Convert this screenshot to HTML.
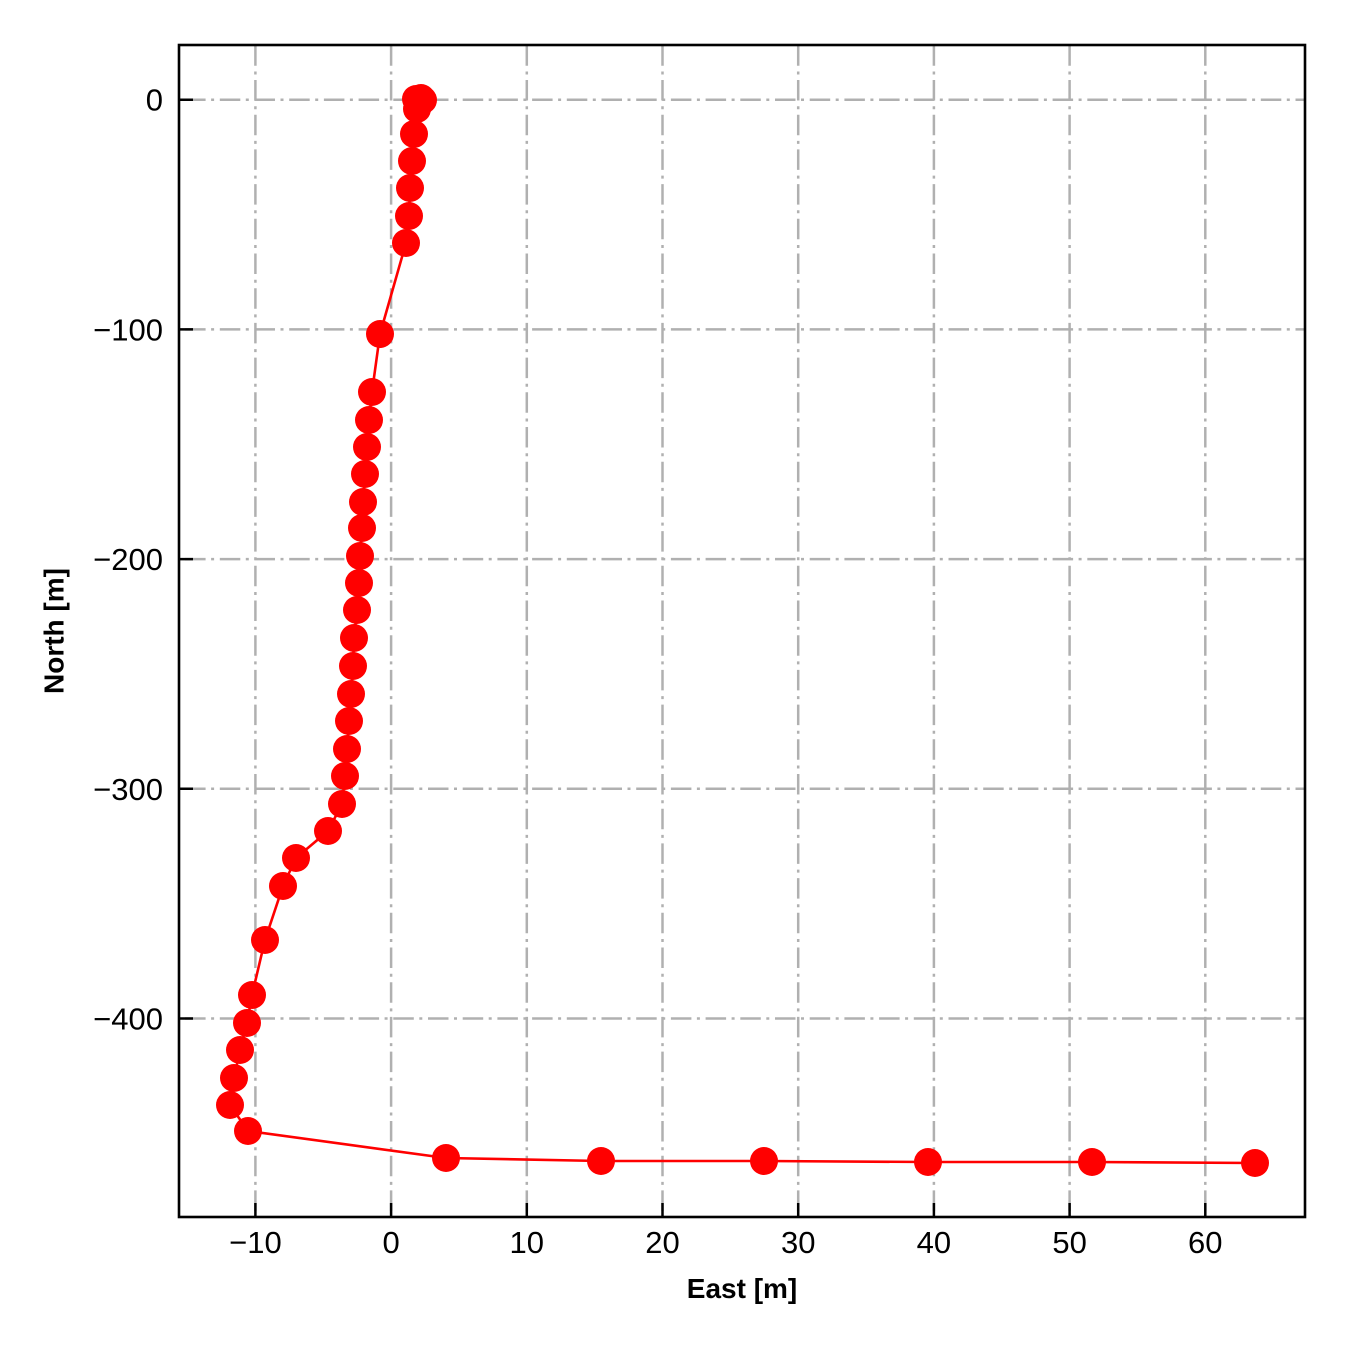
<!DOCTYPE html>
<html>
<head>
<meta charset="utf-8">
<style>
html,body{margin:0;padding:0;background:#fff;}
svg{display:block;}
text{font-family:"Liberation Sans","DejaVu Sans",Arial,sans-serif;fill:#000;}
</style>
</head>
<body>
<svg width="1350" height="1350" viewBox="0 0 1350 1350" xmlns="http://www.w3.org/2000/svg">
<defs>
<marker id="dot" markerUnits="userSpaceOnUse" markerWidth="30" markerHeight="30" refX="15" refY="15" viewBox="0 0 30 30" overflow="visible">
<circle cx="15" cy="15" r="14" fill="#ff0000"/>
</marker>
</defs>
<rect x="0" y="0" width="1350" height="1350" fill="#fff"/>
<path fill="none" stroke="#b0b0b0" stroke-width="2.5" stroke-dasharray="20.5 5.5 3 5.7" stroke-dashoffset="28.6"
d="M179,99.7H1305M179,329.4H1305M179,559.1H1305M179,788.8H1305M179,1018.5H1305M255.4,1217V45M391.1,1217V45M526.8,1217V45M662.5,1217V45M798.2,1217V45M933.9,1217V45M1069.6,1217V45M1205.3,1217V45"/>
<polyline fill="none" stroke="#ff0000" stroke-width="2.6" stroke-linejoin="round" marker-start="url(#dot)" marker-mid="url(#dot)" marker-end="url(#dot)"
points="416,99 421,98 423,100 419,104 417,109 414,134 412,161 410,188 409,216 406,243 380,334 372,392 369,420 367,447 365,474 363,502 362,528 360,556 359,583 357,610 354,638 353,666 351,694 349,721 347,749 345,776 342,804 328,831 296,858 283,886 265,940 252,995 247,1023 240,1050 234,1078 230,1105 248,1131 446,1158 601,1161 764,1161 928,1162 1092,1162 1255,1163"/>
<path fill="none" stroke="#000" stroke-width="2.5"
d="M179,99.7H193M179,329.4H193M179,559.1H193M179,788.8H193M179,1018.5H193M255.4,1217V1203M391.1,1217V1203M526.8,1217V1203M662.5,1217V1203M798.2,1217V1203M933.9,1217V1203M1069.6,1217V1203M1205.3,1217V1203"/>
<rect x="179" y="45" width="1126" height="1172" fill="none" stroke="#000" stroke-width="2.6"/>
<g font-size="31" text-anchor="end">
<text x="163" y="110.7">0</text>
<text x="163" y="340.4">−100</text>
<text x="163" y="570.1">−200</text>
<text x="163" y="799.8">−300</text>
<text x="163" y="1029.5">−400</text>
</g>
<g font-size="31" text-anchor="middle">
<text x="255.4" y="1253">−10</text>
<text x="391.1" y="1253">0</text>
<text x="526.8" y="1253">10</text>
<text x="662.5" y="1253">20</text>
<text x="798.2" y="1253">30</text>
<text x="933.9" y="1253">40</text>
<text x="1069.6" y="1253">50</text>
<text x="1205.3" y="1253">60</text>
</g>
<text x="742" y="1298" font-size="28" font-weight="bold" text-anchor="middle">East [m]</text>
<text x="63.5" y="631" font-size="28" font-weight="bold" text-anchor="middle" transform="rotate(-90 63.5 631)">North [m]</text>
</svg>
</body>
</html>
